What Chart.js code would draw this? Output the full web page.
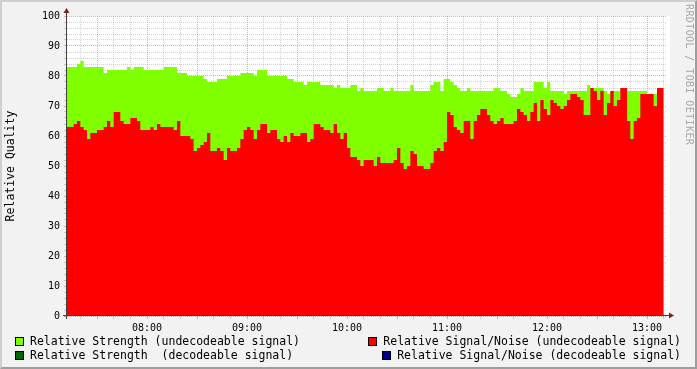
<!DOCTYPE html>
<html>
<head>
<meta charset="utf-8">
<script src="https://cdn.jsdelivr.net/npm/chart.js@4.4.1/dist/chart.umd.min.js"></script>
<style>
  html, body { margin: 0; padding: 0; background: #f2f2f2; }
  #wrap { position: relative; width: 697px; height: 369px; overflow: hidden; background: #f2f2f2;
          font-family: "DejaVu Sans Mono", monospace; color: #000; }
  #frame { position: absolute; left: 0; top: 0; width: 697px; height: 369px; box-sizing: border-box;
           border-top: 2px solid #cfcfcf; border-left: 2px solid #cfcfcf;
           border-right: 2px solid #9e9e9e; border-bottom: 2px solid #9e9e9e; pointer-events: none; }
  canvas { position: absolute; left: 0; top: 0; }
  .lg { position: absolute; font-size: 11.5px; line-height: 12px; white-space: pre; display: flex; align-items: center; }
  .sw { display: inline-block; width: 7px; height: 7px; border: 1px solid #000; margin-right: 6px; }
  #wm { position: absolute; left: 684px; top: 4px; writing-mode: vertical-rl; font-size: 10px;
        color: #a8a8a8; white-space: pre; letter-spacing: 0.4px; }
</style>
</head>
<body>
<div id="wrap">
  <canvas id="c" width="697" height="369"></canvas>
  <div id="frame"></div>
  <div class="lg" style="left:15px; top:335px;"><span class="sw" style="background:#7fff00"></span>Relative Strength (undecodeable signal)</div>
  <div class="lg" style="left:15px; top:349px;"><span class="sw" style="background:#006400"></span>Relative Strength  (decodeable signal)</div>
  <div class="lg" style="right:16px; top:335px;"><span class="sw" style="background:#ff0000"></span>Relative Signal/Noise (undecodeable signal)</div>
  <div class="lg" style="right:16px; top:349px;"><span class="sw" style="background:#00008b"></span>Relative Signal/Noise (decodeable signal)</div>
  <div id="wm">RRDTOOL / TOBI OETIKER</div>
</div>
<script>
// ---- data (2-minute steps starting at 07:12) ----
const startMinute = 432;   // 07:12
const stepMinutes = 2;
const xMaxMinute = 792;    // 13:12

const strengthUndecodeable = [
  83,83,83,83,84,85,83,83,83,83,
  83,83,81,82,82,82,82,82,82,83,
  82,83,83,83,82,82,82,82,82,82,
  83,83,83,83,81,81,81,80,80,80,
  80,80,79,78,78,78,79,79,79,80,
  80,80,80,81,81,81,81,80,82,82,
  82,80,80,80,80,80,80,79,79,78,
  78,78,77,78,78,78,78,77,77,77,
  77,76,77,76,76,76,77,77,75,76,
  75,75,75,75,76,76,75,75,76,75,
  75,75,75,75,77,75,75,75,75,75,
  77,78,78,75,79,79,78,77,76,75,
  75,76,75,75,75,75,75,75,75,76,
  76,75,75,74,73,73,74,76,75,75,
  75,78,78,78,76,78,75,75,75,75,
  74,75,75,75,75,75,75,77,76,76,
  76,76,75,74,75,75,75,76,75,75,
  75,75,75,75,75,74,74,74,76
];

const snrUndecodeable = [
  62,63,63,64,65,63,62,59,61,61,
  62,62,63,65,63,68,68,65,64,64,
  66,66,65,62,62,62,63,62,64,63,
  63,63,63,62,65,60,60,60,59,55,
  56,57,58,61,55,55,56,55,52,56,
  55,55,56,59,62,63,62,59,62,64,
  64,61,62,62,59,58,60,58,61,60,
  60,61,61,58,59,64,64,63,62,62,
  61,64,61,59,61,56,53,53,52,50,
  52,52,52,50,53,51,51,51,51,52,
  56,51,49,50,55,54,50,50,49,49,
  51,55,56,55,58,68,67,63,62,61,
  65,65,59,65,67,69,69,67,65,64,
  65,66,64,64,64,65,69,68,67,65,
  68,71,65,72,69,67,72,71,70,69,
  70,72,74,74,73,72,67,67,76,75,
  72,75,67,71,75,70,72,76,76,65,
  59,65,66,74,74,74,74,70,76
];

const yTickLabels = [0,10,20,30,40,50,60,70,80,90,100];
const xTickLabelMinutes = [480,540,600,660,720,780]; // 08:00 .. 13:00

const colStrength = '#7fff00';
const colSnr = '#ff0000';
const gridMinor = 'rgba(143,143,143,0.4)';
const gridMajor = 'rgba(222,79,79,0.5)';

function toPoints(arr) {
  const pts = arr.map((v, i) => ({ x: startMinute + i * stepMinutes, y: v }));
  pts.push({ x: startMinute + arr.length * stepMinutes, y: arr[arr.length - 1] });
  return pts;
}
function hhmm(m) {
  const h = Math.floor(m / 60), mm = m % 60;
  return String(h).padStart(2, '0') + ':' + String(mm).padStart(2, '0');
}

const bgPlugin = {
  id: 'bg',
  beforeDraw(chart) {
    const { ctx, chartArea: a } = chart;
    ctx.save();
    ctx.fillStyle = '#ffffff';
    ctx.fillRect(a.left, a.top, a.right - a.left + 3, a.bottom - a.top);
    ctx.restore();
  },
  afterDraw(chart) {
    const { ctx, chartArea: a } = chart;
    ctx.save();
    ctx.strokeStyle = '#404040';
    ctx.lineWidth = 1;
    ctx.beginPath();
    ctx.moveTo(a.left - 0.5, a.bottom + 3);
    ctx.lineTo(a.left - 0.5, a.top - 4);
    ctx.moveTo(a.left - 4, a.bottom - 0.5);
    ctx.lineTo(a.right + 3, a.bottom - 0.5);
    ctx.stroke();
    ctx.fillStyle = '#801f1f';
    ctx.beginPath();
    ctx.moveTo(a.left - 0.5, a.top - 8);
    ctx.lineTo(a.left - 3.5, a.top - 3);
    ctx.lineTo(a.left + 2.5, a.top - 3);
    ctx.closePath();
    ctx.fill();
    ctx.beginPath();
    ctx.moveTo(a.right + 7, a.bottom - 0.5);
    ctx.lineTo(a.right + 2, a.bottom - 3.5);
    ctx.lineTo(a.right + 2, a.bottom + 2.5);
    ctx.closePath();
    ctx.fill();
    ctx.restore();
  }
};

const font = { family: '"DejaVu Sans Mono", monospace', size: 10 };

new Chart(document.getElementById('c'), {
  type: 'line',
  data: {
    datasets: [
      { label: 'Relative Signal/Noise (undecodeable signal)', data: toPoints(snrUndecodeable),
        backgroundColor: colSnr, borderColor: 'rgba(0,0,0,0)', borderWidth: 0, fill: 'origin',
        stepped: 'after', pointRadius: 0, order: 0 },
      { label: 'Relative Strength (undecodeable signal)', data: toPoints(strengthUndecodeable),
        backgroundColor: colStrength, borderColor: 'rgba(0,0,0,0)', borderWidth: 0, fill: 'origin',
        stepped: 'after', pointRadius: 0, order: 1 }
    ]
  },
  options: {
    responsive: false,
    animation: false,
    events: [],
    layout: { padding: { top: 16, left: 0, right: 30, bottom: 0 } },
    plugins: { legend: { display: false }, tooltip: { enabled: false } },
    scales: {
      x: {
        type: 'linear', min: startMinute, max: xMaxMinute, z: 1,
        afterBuildTicks: (s) => {
          const t = [];
          for (let m = Math.ceil(startMinute / 10) * 10; m < xMaxMinute; m += 10) t.push({ value: m });
          s.ticks = t;
        },
        afterFit: (s) => { s.height = 53; },
        ticks: { autoSkip: false, maxRotation: 0, padding: 3, color: '#000', font,
                 callback: (v) => (xTickLabelMinutes.includes(v) ? hhmm(v) : '') },
        grid: { color: (c) => (c.tick && c.tick.value % 30 === 0 ? gridMajor : gridMinor),
                tickLength: 3, lineWidth: 1 },
        border: { display: false, dash: [1, 1] }
      },
      y: {
        min: 0, max: 100, z: 1,
        afterBuildTicks: (s) => { s.ticks = s.ticks.filter(t => t.value % 2 === 0); },
        afterFit: (s) => { s.width = 67; },
        ticks: { stepSize: 2, autoSkip: false, padding: 4, color: '#000', font,
                 callback: (v) => (yTickLabels.includes(v) ? String(v) : '') },
        grid: { color: (c) => (c.tick && c.tick.value % 10 === 0 ? gridMajor : gridMinor),
                tickLength: 3, lineWidth: 1 },
        border: { display: false, dash: [1, 1] },
        title: { display: true, text: 'Relative Quality', color: '#000',
                 font: { family: '"DejaVu Sans Mono", monospace', size: 11.5 }, padding: { top: 4, bottom: 0 } }
      }
    }
  },
  plugins: [bgPlugin]
});
</script>
</body>
</html>
